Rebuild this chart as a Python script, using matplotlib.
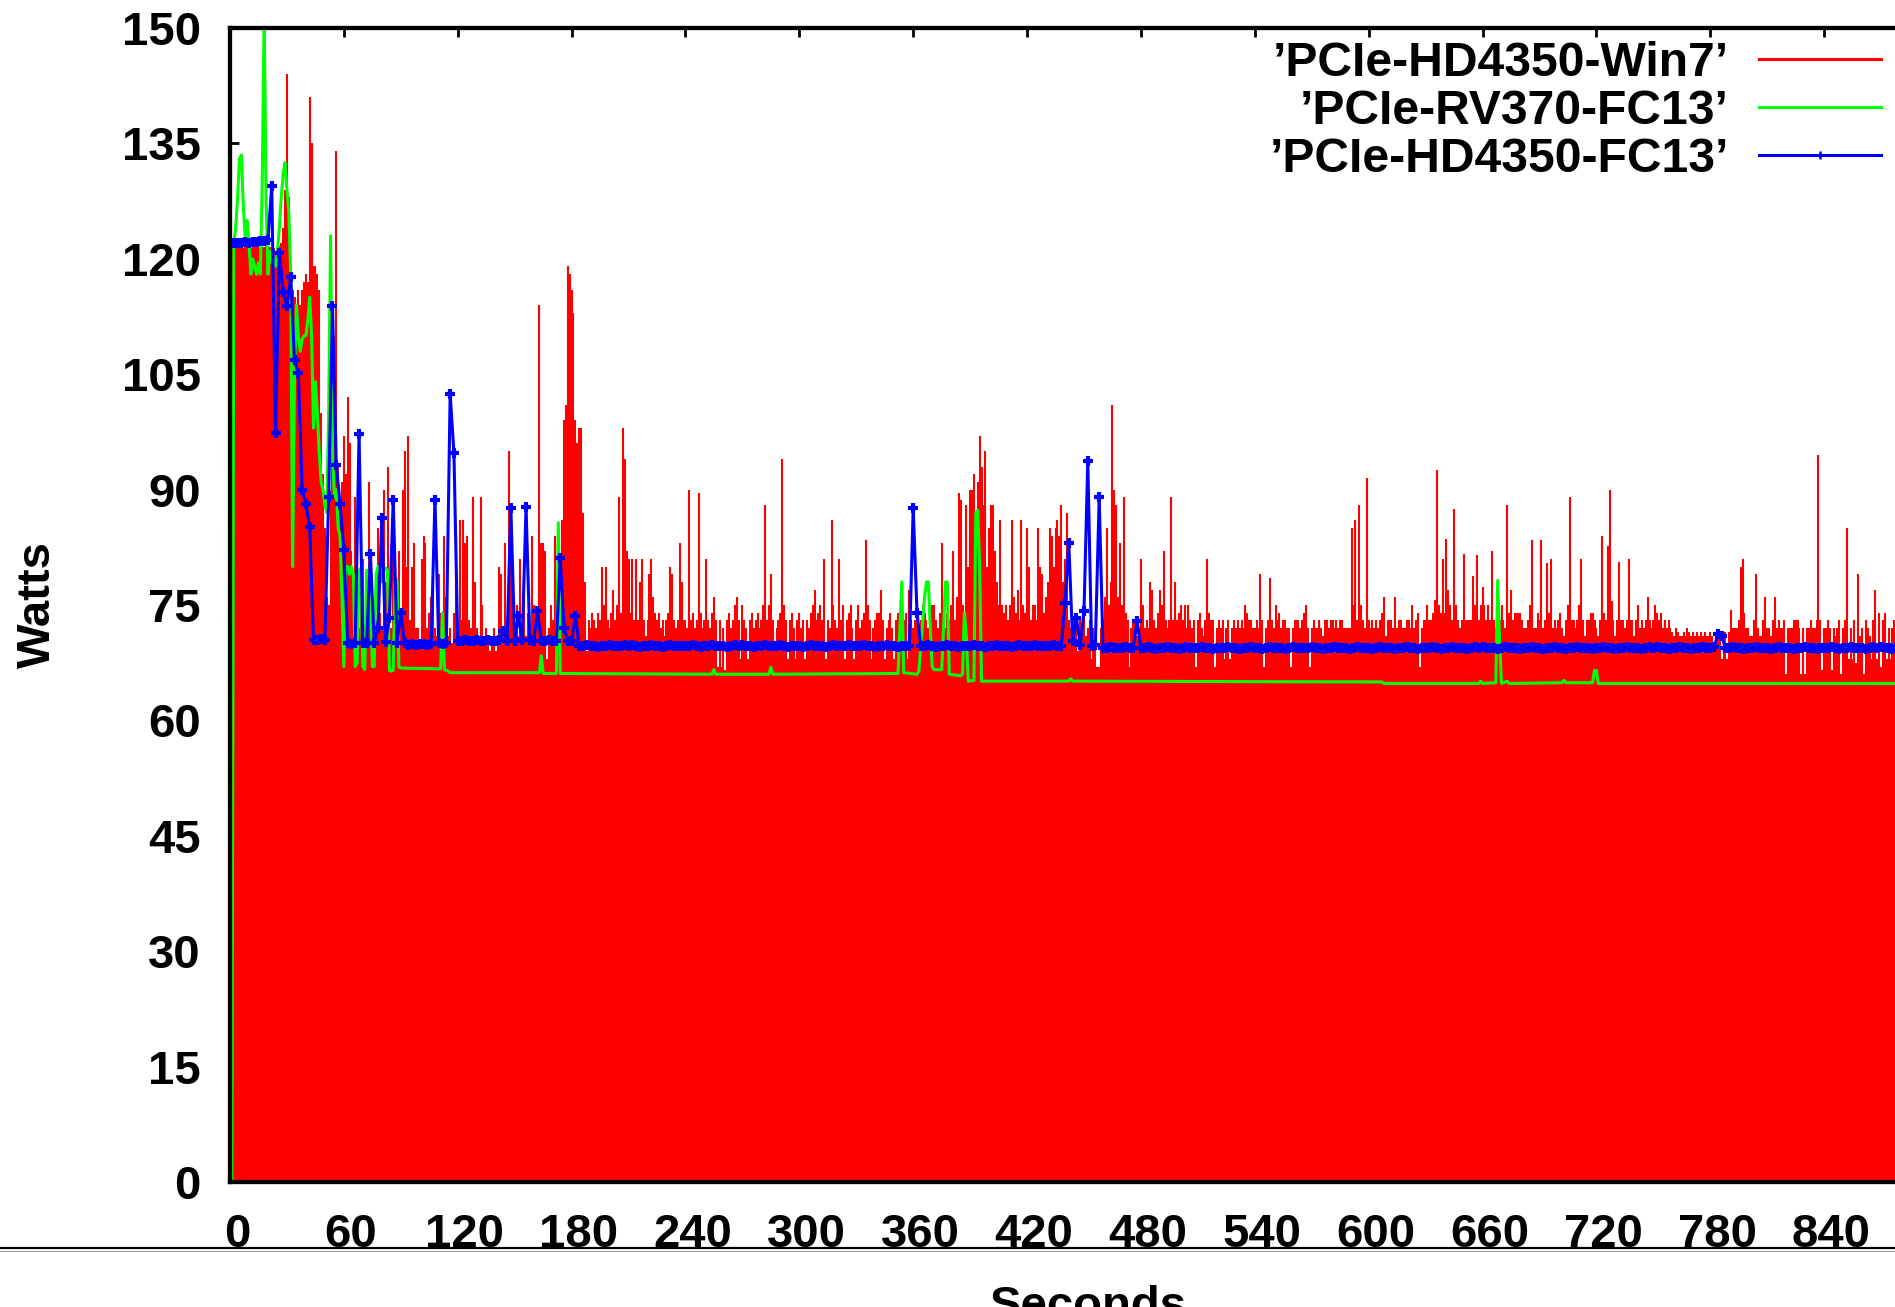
import numpy as np
import matplotlib
matplotlib.use('Agg')
import matplotlib.pyplot as plt
from matplotlib.lines import Line2D
from matplotlib.transforms import ScaledTranslation

# 'PCIe-HD4350-Win7' : one reading per second, t = 0 .. 899
win7_w = [
    121.4, 121.5, 121.6, 121.4, 121.5, 121.6, 121.5, 121.4, 121.6, 121.5, 121.5, 121.4, 121.6, 121.5, 121.5, 121.6, 121.4, 121.5, 121.5, 121.6,
    121.3, 121.5, 121.2, 121.4, 121.0, 121.3, 121.6, 122, 124, 129, 144, 128, 118, 116, 115, 114, 116, 114, 116, 117,
    118, 117, 141, 135, 119, 119, 118, 116, 100, 92, 85, 76, 75, 90, 96, 110, 134, 93, 88, 91,
    97, 92, 102, 96, 82, 79, 89, 74, 72, 76, 81, 72, 75, 91, 82, 76, 72, 73, 85, 74,
    72, 90, 78, 93, 73, 72, 86, 78, 72, 82, 74, 90, 95, 80, 97, 73, 80, 83, 72, 72,
    70, 81, 84, 83, 72, 74, 76, 78, 72, 71, 79, 74, 71, 84, 76, 71, 72, 70, 74, 85,
    72, 86, 73, 86, 83, 84, 73, 72, 89, 78, 72, 71, 89, 75, 71, 72, 70, 69, 71, 72,
    69, 71, 80, 79, 72, 83, 73, 95, 82, 78, 72, 75, 71, 81, 72, 78, 71, 74, 72, 84,
    75, 72, 73, 114, 83, 83, 82, 68, 72, 75, 73, 84, 72, 76, 72, 86, 99, 101, 119, 118,
    116, 113, 99, 96, 98, 98, 87, 78, 69, 73, 72, 74, 73, 72, 74, 73, 80, 75, 80, 73,
    72, 74, 77, 73, 75, 89, 74, 98, 94, 82, 81, 74, 81, 73, 81, 73, 78, 81, 73, 71,
    73, 79, 81, 76, 74, 73, 74, 72, 73, 71, 73, 74, 80, 79, 73, 72, 73, 83, 78, 73,
    73, 72, 90, 73, 74, 72, 73, 89.5, 74, 72, 73, 81, 73, 72, 74, 76, 73, 67, 73, 67,
    72, 66.6, 73, 74, 72, 73, 75, 76, 73, 68, 75, 73, 72, 68, 73, 74, 72, 73, 74, 72,
    73, 75, 88, 73, 75, 79, 73, 69, 72, 73, 74, 94, 75, 73, 68, 73, 74, 72, 68, 73,
    74, 72, 73, 68, 73, 72, 74, 75, 77, 73, 74, 75, 73, 81, 68, 73, 72, 86, 75, 73,
    72, 81, 73, 75, 68, 73, 74, 75, 72, 68, 73, 75, 72, 73, 74, 83.5, 75, 73, 68, 72,
    73, 74, 74, 77, 73, 68, 72, 73, 74, 72, 68, 73, 74, 73, 72, 73, 74, 68, 77, 73,
    72, 73, 74, 72, 73, 75, 74, 73, 72, 73, 75, 75, 73, 72, 74, 83, 73, 72, 74, 73,
    75, 82, 73, 76, 89.5, 88.7, 75, 74, 88, 80, 90, 90, 92, 86, 91, 97, 93, 88, 95, 80,
    85, 88, 88, 82, 78, 75, 86, 75, 74, 75, 73, 75, 86, 76, 74, 77, 73, 86, 75, 74,
    85, 80, 73, 75, 75, 73, 85, 80, 79, 74, 76, 78, 85, 84, 80, 85, 86, 84, 88, 78,
    81, 87, 73, 72, 73, 71, 72, 69, 73, 72, 74, 71, 72, 73, 68, 72, 71, 67, 67, 72,
    73, 76, 85, 75, 78, 101, 90, 88, 76, 83, 75, 89, 74, 73, 67, 72, 73, 73, 71, 72,
    81, 75, 72, 73, 72, 78, 77, 73, 72, 74, 77, 75, 82, 73, 72, 73, 89, 73, 78, 73,
    74, 75, 73, 75, 72, 75, 73, 72, 73, 67, 73, 74, 72, 71, 73, 81, 74, 73, 73, 67,
    72, 73, 72, 73, 68, 72, 73, 68, 72, 73, 72, 73, 72, 73, 72, 75, 74, 73, 73, 72,
    72, 73, 72, 79, 73, 67, 72, 73, 78.5, 73, 72, 75, 73, 74, 72, 73, 73, 72, 72, 67,
    72, 73, 73, 73, 72, 73, 74, 75, 72, 67, 72, 73, 72, 72, 73, 72, 71, 73, 73, 72,
    73, 73, 72, 73, 72, 73, 73, 72, 72, 72, 72, 85, 75, 86, 73, 88, 75, 73, 72, 91.5,
    73, 72, 73, 72, 73, 72, 73, 74, 76, 71, 73, 73, 73, 72, 76, 72, 73, 73, 72, 72,
    73, 73, 72, 75, 72, 73, 74, 67, 72, 73, 73, 75, 73, 73, 74, 75.6, 92.5, 75, 74, 81,
    74, 83.6, 77, 75, 73, 87.5, 75, 73, 72, 73, 81.6, 73, 73, 73, 73, 78.8, 75, 81.5, 73, 75,
    77.4, 75, 73, 75, 73, 82, 73, 72, 73, 73, 75, 73, 72, 88, 74, 77, 73, 74, 74, 74,
    74, 73, 72, 72, 73, 75, 83.4, 72, 72, 74, 73, 83.5, 72, 73, 80.5, 74, 81, 72, 73, 72,
    73, 74, 72, 71, 73, 75, 89, 73, 73, 72, 73, 75, 81, 73, 71, 73, 73, 74, 74, 73,
    72, 71, 73, 84, 74, 73, 82.7, 90, 75.5, 73, 71, 73, 80.6, 73, 73, 72, 73, 81, 73, 73,
    71, 73, 75, 72, 73, 72, 73, 76, 73, 72, 73, 75, 74, 73, 74, 72, 73, 72, 73, 72,
    71.5, 71, 72, 71.5, 71, 71, 71.5, 71, 72, 71.5, 71, 71.5, 71, 71.5, 71, 71.5, 71, 71.5, 71, 71,
    71.5, 71, 69, 71.5, 71.5, 71, 68, 71, 71.5, 68, 71.5, 74.4, 72, 72, 72, 73, 80, 81, 74, 72,
    72, 71, 71, 73, 79, 72, 71, 71, 73, 76, 72, 72, 71, 73, 76, 72, 73, 72, 72, 73,
    66, 72, 72, 72, 73, 73, 73, 72, 66, 72, 66, 72, 72, 73, 72, 72, 73, 94.5, 73, 66.5,
    72, 72, 73, 72, 66.5, 72, 71, 72, 73, 66, 72, 73, 85, 68, 72, 68, 73, 67.5, 79, 71,
    72, 66, 73, 72, 71, 68, 73, 77, 68, 74, 67, 73, 74, 68, 72, 68, 72, 73, 71, 72,
    72, 73, 68, 72, 74, 73, 71, 72, 73, 69, 72, 73, 72, 74, 71, 72, 73, 72, 71, 73,
]

# 'PCIe-RV370-FC13' : readings where the line changes
rv370_t = [
    1, 2, 3, 4, 5, 6, 7, 8, 9, 10,
    11, 12, 13, 14, 15, 16, 17, 18, 19, 20,
    21, 22, 23, 24, 25, 26, 27, 28, 29, 30,
    31, 32, 33, 34, 35, 36, 37, 38, 39, 40,
    41, 42, 43, 44, 45, 46, 47, 48, 49, 50,
    51, 52, 53, 54, 55, 56, 57, 58, 59, 60,
    61, 62, 63, 64, 65, 66, 67, 68, 69, 70,
    71, 72, 73, 74, 75, 76, 77, 78, 79, 80,
    81, 82, 83, 84, 85, 86, 87, 88, 89, 90,
    111, 112, 113, 115, 116, 163, 164, 165, 172, 173,
    174, 254, 255, 256, 284, 285, 286, 352, 353, 354,
    355, 362, 363, 366, 367, 368, 369, 370, 371, 375,
    376, 377, 378, 379, 385, 386, 387, 388, 389, 392,
    393, 394, 395, 396, 442, 443, 444, 607, 608, 658,
    659, 660, 667, 668, 669, 670, 673, 674, 702, 703,
    704, 718, 719, 720, 721, 900,
]
rv370_w = [
    0, 122, 124, 128, 133, 133.5, 127, 123, 125, 122,
    118, 120, 119, 118, 119.5, 118, 130, 152, 128, 118,
    121, 119.5, 120, 119, 121, 124, 128, 131, 132.5, 129,
    126, 118, 80, 105, 114, 110, 108, 109.5, 110, 110,
    112, 115, 110, 98, 104, 100, 95, 91, 90, 88,
    87, 100, 123, 95, 89, 90, 85, 84, 76, 67,
    80, 80, 79, 80, 79, 67, 67.5, 79.5, 79.8, 67,
    66.6, 79.5, 79.5, 78, 67, 67, 79, 80, 79, 78,
    79.5, 79.8, 79.5, 66.5, 66.4, 66.5, 78, 78.3, 67, 66.8,
    66.7, 74, 66.6, 66.4, 66.2, 66.2, 68.4, 66.1, 66.1, 85.7,
    66.1, 66.0, 66.6, 66.0, 66.0, 66.9, 66.0, 66.1, 72, 78,
    66.2, 66.0, 66.4, 76, 78, 78, 72, 67, 66.6, 66.6,
    72, 78, 78, 66, 65.8, 66, 74, 71, 65.1, 65.2,
    87, 87.3, 80, 65.1, 65.1, 65.4, 65.1, 65.0, 64.8, 64.8,
    65.1, 64.8, 64.9, 78.2, 70, 64.8, 65.1, 64.8, 64.9, 65.2,
    64.9, 64.9, 66.5, 66.5, 64.8, 64.8,
]

# 'PCIe-HD4350-FC13' : one reading every 2 seconds, t = 0 .. 898
fc13_w = [
    122.0, 122.1, 122.0, 122.1, 122.2, 122.1, 122.2, 122.2, 122.3, 122.3, 122.5, 129.5, 97.3, 120.8, 115.7,
    113.8, 117.6, 106.8, 105.1, 90.0, 88.1, 85.1, 70.5, 70.4, 70.6, 70.5, 89.0, 113.8, 93.2, 88.1,
    82.2, 70.0, 69.9, 70.0, 97.2, 70.1, 70.0, 81.6, 70.1, 72.0, 86.3, 70.2, 73.3, 88.7, 70.1,
    74.0, 70.0, 69.8, 69.9, 69.8, 69.9, 69.9, 69.8, 69.9, 88.7, 70.0, 69.9, 70.1, 102.4, 94.8,
    70.3, 70.3, 70.4, 70.3, 70.3, 70.4, 70.3, 70.3, 70.4, 70.3, 70.3, 70.4, 71.6, 70.3, 87.6,
    70.3, 73.6, 70.4, 87.7, 70.4, 70.3, 74.2, 70.3, 70.3, 70.4, 70.3, 70.3, 81.1, 72.0, 70.3,
    70.3, 73.6, 69.7, 69.7, 69.8, 69.7, 69.7, 69.6, 69.7, 69.7, 69.8, 69.7, 69.7, 69.7, 69.8,
    69.7, 69.8, 69.7, 69.6, 69.7, 69.7, 69.8, 69.7, 69.7, 69.6, 69.7, 69.8, 69.7, 69.7, 69.7,
    69.7, 69.7, 69.8, 69.7, 69.6, 69.7, 69.7, 69.8, 69.7, 69.7, 69.7, 69.6, 69.7, 69.8, 69.7,
    69.8, 69.7, 69.7, 69.6, 69.7, 69.7, 69.8, 69.7, 69.7, 69.7, 69.8, 69.7, 69.6, 69.7, 69.7,
    69.7, 69.6, 69.7, 69.8, 69.7, 69.7, 69.7, 69.6, 69.7, 69.8, 69.7, 69.7, 69.7, 69.8, 69.7,
    69.7, 69.7, 69.8, 69.7, 69.7, 69.6, 69.7, 69.7, 69.8, 69.7, 69.7, 69.6, 69.7, 69.7, 69.7,
    87.6, 74.0, 69.7, 69.7, 69.8, 69.7, 69.6, 69.7, 69.7, 69.8, 69.7, 69.7, 69.6, 69.7, 69.7,
    69.7, 69.8, 69.7, 69.7, 69.6, 69.7, 69.7, 69.8, 69.7, 69.7, 69.7, 69.6, 69.7, 69.8, 69.7,
    69.7, 69.7, 69.8, 69.7, 69.7, 69.7, 69.7, 69.8, 69.7, 69.7, 75.3, 83.0, 70.3, 73.3, 69.8,
    74.2, 93.7, 69.7, 69.8, 89.0, 69.4, 69.4, 69.5, 69.4, 69.4, 69.4, 69.5, 69.4, 69.4, 72.9,
    69.4, 69.4, 69.5, 69.4, 69.3, 69.4, 69.4, 69.5, 69.4, 69.4, 69.3, 69.4, 69.5, 69.4, 69.4,
    69.4, 69.5, 69.4, 69.4, 69.3, 69.4, 69.4, 69.4, 69.5, 69.4, 69.4, 69.3, 69.4, 69.4, 69.5,
    69.4, 69.4, 69.3, 69.4, 69.5, 69.4, 69.4, 69.4, 69.3, 69.4, 69.5, 69.4, 69.4, 69.4, 69.4,
    69.5, 69.4, 69.4, 69.3, 69.4, 69.4, 69.5, 69.4, 69.4, 69.4, 69.3, 69.4, 69.5, 69.4, 69.4,
    69.4, 69.3, 69.4, 69.5, 69.4, 69.4, 69.4, 69.3, 69.4, 69.4, 69.5, 69.4, 69.4, 69.3, 69.4,
    69.4, 69.4, 69.5, 69.4, 69.3, 69.4, 69.4, 69.5, 69.4, 69.4, 69.4, 69.3, 69.4, 69.5, 69.4,
    69.5, 69.4, 69.4, 69.4, 69.3, 69.4, 69.5, 69.4, 69.4, 69.4, 69.3, 69.4, 69.4, 69.5, 69.4,
    69.4, 69.3, 69.4, 69.4, 69.5, 69.4, 69.4, 69.3, 69.4, 69.4, 69.5, 69.4, 69.4, 69.4, 69.3,
    69.4, 69.4, 69.5, 69.4, 69.4, 69.3, 69.4, 69.4, 69.5, 69.4, 69.4, 69.4, 69.3, 69.4, 69.5,
    69.4, 69.5, 69.4, 69.4, 69.3, 69.4, 69.4, 69.5, 69.4, 69.4, 69.3, 69.4, 69.4, 69.5, 69.4,
    69.4, 69.5, 71.2, 71.0, 69.4, 69.4, 69.5, 69.4, 69.4, 69.3, 69.4, 69.4, 69.5, 69.4, 69.4,
    69.4, 69.3, 69.4, 69.5, 69.4, 69.4, 69.4, 69.3, 69.4, 69.4, 69.5, 69.4, 69.4, 69.3, 69.4,
    69.4, 69.4, 69.5, 69.4, 69.3, 69.4, 69.4, 69.5, 69.4, 69.4, 69.4, 69.3, 69.4, 69.5, 69.4,
    69.5, 69.4, 69.4, 69.3, 69.4, 69.4, 69.5, 69.4, 69.4, 69.4, 69.3, 69.4, 69.4, 69.5, 69.4,
]

series_names = ['\u2019PCIe-HD4350-Win7\u2019', '\u2019PCIe-RV370-FC13\u2019', '\u2019PCIe-HD4350-FC13\u2019']
series_colors = ['#ff0000', '#00ff00', '#0000ff']
x_ticks = list(range(0, 901, 60))
y_ticks = list(range(0, 151, 15))

plt.rcParams['font.family'] = ['Liberation Sans', 'DejaVu Sans']
plt.rcParams['font.weight'] = 'bold'

W, H = 1895, 1307
fig = plt.figure(figsize=(W / 100, H / 100), dpi=100)
# the plot runs on past the right edge of the picture, as in the screenshot
ax = fig.add_axes([230 / W, 1 - 1182 / H, (1938 - 230) / W, 1154 / H])

win7_t = np.arange(len(win7_w))
fc13_t = np.arange(len(fc13_w)) * 2

ax.vlines(win7_t, 0, win7_w, colors=series_colors[0], lw=1.5)
ax.plot(rv370_t, rv370_w, color=series_colors[1], lw=2.2)
ax.plot(fc13_t, fc13_w, color=series_colors[2], lw=2.2, marker='+', ms=6.5, mew=3)

ax.set_xlim(0, 900)
ax.set_ylim(0, 150)
ax.set_xticks(x_ticks)
ax.set_yticks(y_ticks)
ax.set_axisbelow(True)
ax.tick_params(direction='in', length=6.5, width=2, labelsize=34,
               top=True, right=True)
ax.tick_params(axis='y', pad=21)
ax.tick_params(axis='x', pad=22)
for sp in ax.spines.values():
    sp.set_linewidth(3.1)

# gnuplot puts the x labels a little to the right of the ticks
shift = ScaledTranslation(0.07, 0, fig.dpi_scale_trans)
for lab in ax.get_xticklabels():
    lab.set_transform(lab.get_transform() + shift)

fig.text(38 / W, 1 - 604 / H, 'Watts', rotation=90, ha='center', va='center',
         fontsize=34, fontweight='bold')
fig.text(1088 / W, 1 - 1319 / H, 'Seconds', ha='center', va='baseline',
         fontsize=34, fontweight='bold')

# key, top right
key_rows = [59, 107, 155]
for i, (name, col) in enumerate(zip(series_names, series_colors)):
    y = key_rows[i]
    fig.text(1729 / W, 1 - (y + 17) / H, name, ha='right', va='baseline',
             fontsize=34.6, fontweight='bold')
    fig.add_artist(Line2D([1759 / W, 1881 / W], [1 - y / H, 1 - y / H],
                          transform=fig.transFigure, color=col, lw=2.2))
fig.add_artist(Line2D([1820 / W], [1 - key_rows[2] / H], transform=fig.transFigure,
                      color=series_colors[2], marker='+', ms=6, mew=1.8))

# page rule running under the tick labels
fig.add_artist(Line2D([0, 1], [1 - 1248 / H, 1 - 1248 / H], transform=fig.transFigure,
                      color='black', lw=1.6))
fig.add_artist(Line2D([0, 1], [1 - 1250.5 / H, 1 - 1250.5 / H], transform=fig.transFigure,
                      color='#888888', lw=0.7))

fig.savefig('out.png', dpi=100)
